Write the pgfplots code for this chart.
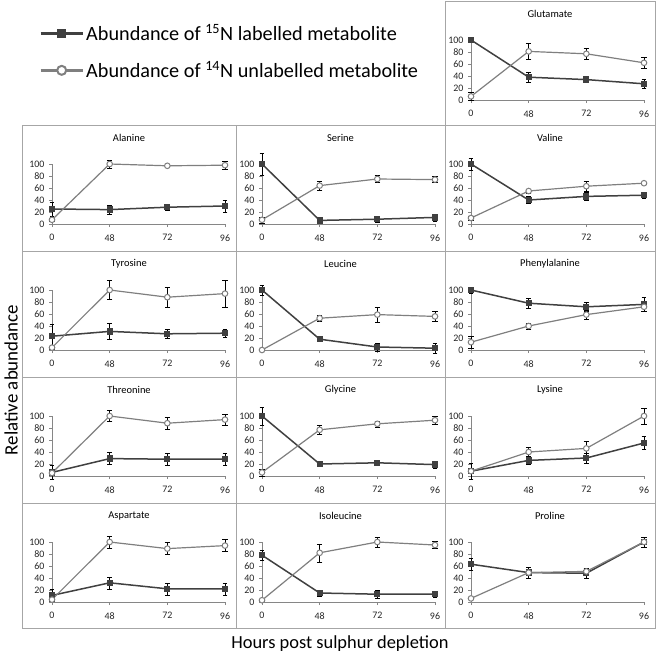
\documentclass[border=0pt]{standalone}
\usepackage{pgfplots}
\pgfplotsset{compat=1.18}
\usepackage{fontspec}
\setmainfont{Carlito}
\definecolor{dk}{HTML}{404040}
\definecolor{lt}{HTML}{7F7F7F}
\definecolor{axc}{HTML}{868686}
\definecolor{boxc}{HTML}{A6A6A6}
\pgfplotsset{
 panel/.style={
  scale only axis, width=173bp, height=60bp, anchor=south west,
  xmin=0,xmax=3,ymin=0,ymax=100, clip=false,
  axis lines*=left, axis line style={axc, line width=0.7bp},
  xtick={0,1,2,3}, xticklabels={0,48,72,96}, ytick={0,20,40,60,80,100},
  tick align=outside, major tick length=3bp, tick style={axc, line width=0.7bp},
  ticklabel style={font=\fontsize{10}{11}\selectfont, text=black!85},
  /pgf/number format/assume math mode=true,
  xticklabel style={yshift=-4bp}, yticklabel style={xshift=-1bp},
 },
 s15/.style={dk, line width=1.5bp, mark=square*, mark size=2.4bp,
   mark options={fill=dk, draw=dk, solid},
   error bars/.cd, y dir=both, y explicit,
   error bar style={black, line width=0.7bp}},
 s14/.style={lt, line width=1.2bp, mark=*, mark size=2.8bp,
   mark options={fill=white, draw=lt, line width=1bp, solid},
   error bars/.cd, y dir=both, y explicit,
   error bar style={black, line width=0.7bp}},
}
% #1 box left, #2 box right, #3 box top, #4 box bottom, #5 plot x0, #6 title, #7 15N data, #8 14N data
\newcommand{\panel}[8]{%
 \draw[boxc, line width=0.8bp] (#1bp,-#3bp) rectangle (#2bp,-#4bp);
 \pgfmathsetmacro\cx{(#1+#2)/2}%
 \node[font=\fontsize{10.5}{12}\selectfont] at (\cx bp,-#3bp-13bp) {#6};
 \begin{axis}[panel, at={(#5bp,-#3bp-99bp)}]
  \addplot[s15] coordinates {#7};
  \addplot[s14] coordinates {#8};
 \end{axis}}
\begin{document}
\begin{tikzpicture}
\path[use as bounding box] (0,0) rectangle (656bp,-655bp);
% legend
\begin{axis}[hide axis, scale only axis, width=10bp, height=10bp,
  xmin=0,xmax=1,ymin=0,ymax=1, at={(39bp,-22bp)}, anchor=north west,
  legend style={at={(0,1)}, anchor=north west, draw=none, fill=none,
    font=\fontsize{20.3}{24}\selectfont, row sep=15bp, inner sep=0pt,
    /tikz/every even column/.append style={column sep=2bp}},
  legend cell align=left,
  legend image code/.code={\draw[mark repeat=2,mark phase=2,#1] plot coordinates {(0bp,0bp) (21bp,0bp) (42bp,0bp)};}]
 \addlegendimage{dk, line width=3bp, mark=square*, mark size=4bp, mark options={fill=dk,draw=dk,line width=0.5bp}}
 \addlegendentry{Abundance of \textsuperscript{15}N labelled metabolite}
 \addlegendimage{lt, line width=3bp, mark=*, mark size=4.5bp, mark options={fill=white,draw=lt,line width=2bp}}
 \addlegendentry{Abundance of \textsuperscript{14}N unlabelled metabolite}
\end{axis}
% panels
\panel{445}{655}{1}{125}{471}{Glutamate}
 {(0,100) +- (0,2) (1,38) +- (0,8) (2,34) +- (0,5) (3,27) +- (0,8)}
 {(0,6) +- (0,7) (1,81) +- (0,13) (2,77) +- (0,9) (3,62) +- (0,9)}
\panel{22}{236}{125}{251}{52}{Alanine}
 {(0,25) +- (0,12) (1,24) +- (0,8) (2,28) +- (0,5) (3,30) +- (0,10)}
 {(0,7) +- (0,3) (1,100) +- (0,7) (2,97) +- (0,2) (3,98) +- (0,6)}
\panel{236}{445}{125}{251}{262}{Serine}
 {(0,100) +- (0,18) (1,6) +- (0,5) (2,8) +- (0,5) (3,11) +- (0,6)}
 {(0,7) +- (0,5) (1,64) +- (0,7) (2,75) +- (0,6) (3,74) +- (0,5)}
\panel{445}{655}{125}{251}{471}{Valine}
 {(0,100) +- (0,10) (1,40) +- (0,6) (2,46) +- (0,7) (3,48) +- (0,5)}
 {(0,10) +- (0,3) (1,55) +- (0,3) (2,63) +- (0,8) (3,68) +- (0,2)}
\panel{22}{236}{251}{377}{52}{Tyrosine}
 {(0,23) +- (0,20) (1,31) +- (0,13) (2,27) +- (0,7) (3,28) +- (0,7)}
 {(0,4) +- (0,3) (1,100) +- (0,16) (2,88) +- (0,16) (3,94) +- (0,22)}
\panel{236}{445}{251}{377}{262}{Leucine}
 {(0,100) +- (0,8) (1,18) +- (0,4) (2,5) +- (0,7) (3,3) +- (0,8)}
 {(0,0) +- (0,1) (1,53) +- (0,5) (2,59) +- (0,12) (3,56) +- (0,8)}
\panel{445}{655}{251}{377}{471}{Phenylalanine}
 {(0,100) +- (0,5) (1,78) +- (0,8) (2,72) +- (0,7) (3,76) +- (0,12)}
 {(0,13) +- (0,10) (1,40) +- (0,5) (2,59) +- (0,8) (3,72) +- (0,7)}
\panel{22}{236}{377}{503}{52}{Threonine}
 {(0,6) +- (0,12) (1,29) +- (0,10) (2,28) +- (0,10) (3,28) +- (0,10)}
 {(0,5) +- (0,3) (1,100) +- (0,9) (2,88) +- (0,10) (3,94) +- (0,9)}
\panel{236}{445}{377}{503}{262}{Glycine}
 {(0,100) +- (0,15) (1,20) +- (0,2) (2,22) +- (0,3) (3,19) +- (0,6)}
 {(0,6) +- (0,6) (1,77) +- (0,8) (2,87) +- (0,5) (3,93) +- (0,6)}
\panel{445}{655}{377}{503}{471}{Lysine}
 {(0,8) +- (0,14) (1,26) +- (0,7) (2,30) +- (0,8) (3,55) +- (0,11)}
 {(0,8) +- (0,3) (1,40) +- (0,8) (2,46) +- (0,12) (3,100) +- (0,13)}
\panel{22}{236}{503}{628}{52}{Aspartate}
 {(0,11) +- (0,10) (1,32) +- (0,10) (2,22) +- (0,10) (3,22) +- (0,10)}
 {(0,4) +- (0,3) (1,100) +- (0,10) (2,89) +- (0,10) (3,94) +- (0,10)}
\panel{236}{445}{503}{628}{262}{Isoleucine}
 {(0,78) +- (0,9) (1,15) +- (0,5) (2,13) +- (0,6) (3,13) +- (0,5)}
 {(0,3) +- (0,2) (1,82) +- (0,15) (2,100) +- (0,8) (3,95) +- (0,6)}
\panel{445}{655}{503}{628}{471}{Proline}
 {(0,63) +- (0,10) (1,49) +- (0,9) (2,48) +- (0,9) (3,100) +- (0,8)}
 {(0,6) +- (0,2) (1,49) +- (0,5) (2,51) +- (0,5) (3,100) +- (0,8)}
% axis titles
\node[rotate=90, font=\fontsize{19}{22}\selectfont] at (11bp,-380bp) {Relative abundance};
\node[font=\fontsize{18.5}{22}\selectfont] at (340bp,-644bp) {Hours post sulphur depletion};
\end{tikzpicture}
\end{document}
